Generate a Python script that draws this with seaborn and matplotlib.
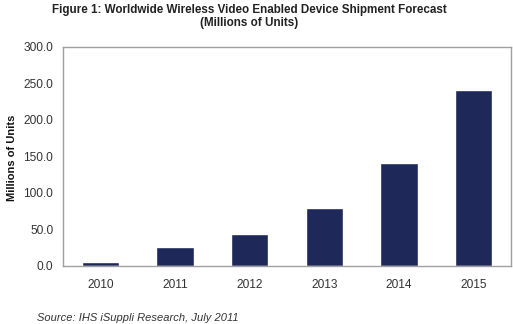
import matplotlib
matplotlib.use("Agg")
import matplotlib.pyplot as plt
import seaborn as sns
import pandas as pd

years = ["2010", "2011", "2012", "2013", "2014", "2015"]
shipments = [6.0, 26.5, 44.0, 79.0, 140.5, 241.0]
yticks = [0, 50, 100, 150, 200, 250, 300]

sns.set_theme(style="white")
plt.rcParams['font.family'] = ['Liberation Sans', 'DejaVu Sans']

df = pd.DataFrame({"year": years, "value": shipments})

fig = plt.figure(figsize=(5.13, 3.24), dpi=100)
ax = fig.add_axes([63/513, 1 - 266/324, (511-63)/513, (266-46.5)/324])
sns.barplot(data=df, x="year", y="value", color="#1e2859", width=0.5,
            saturation=1, ax=ax)
ax.set_ylim(0, 300)
ax.set_yticks(yticks)
ax.set_yticklabels([f"{v:.1f}" for v in yticks], fontsize=8.6, color="#333333")
ax.tick_params(axis="x", labelsize=8.6, labelcolor="#333333", pad=9, length=0)
ax.tick_params(axis="y", pad=7, length=0)
ax.set_xlabel("")
ax.set_ylabel("")
for s in ax.spines.values():
    s.set_color("#a0a0a0")
    s.set_linewidth(1.0)

fig.text(249/513, 1 - 9.5/324, "Figure 1: Worldwide Wireless Video Enabled Device Shipment Forecast",
         ha="center", va="center", fontsize=8.4, fontweight="bold", color="#222222")
fig.text(249/513, 1 - 23/324, "(Millions of Units)",
         ha="center", va="center", fontsize=8.4, fontweight="bold", color="#222222")
fig.text(12/513, 1 - 158/324, "Millions of Units", rotation=90, ha="center", va="center",
         fontsize=8, fontweight="bold", color="#111111")
fig.text(37/513, 1 - 318/324, "Source: IHS iSuppli Research, July 2011",
         ha="left", va="center", fontsize=8, style="italic", color="#333333")

fig.savefig("out.png", dpi=100)
